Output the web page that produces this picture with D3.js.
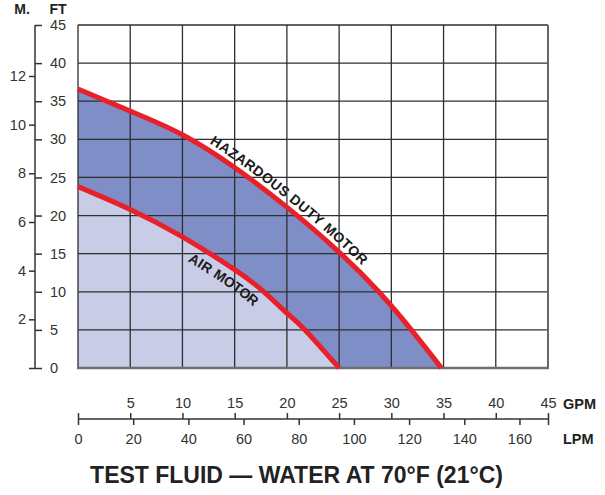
<!DOCTYPE html>
<html>
<head>
<meta charset="utf-8">
<script src="https://cdn.jsdelivr.net/npm/d3@7"></script>
<style>
  html, body { margin: 0; padding: 0; background: #fff; }
  svg text { font-family: "Liberation Sans", Arial, Helvetica, sans-serif; }
</style>
</head>
<body>
<svg id="chart" width="605" height="495"></svg>
<script>
// ---- data ----
const hazardGPM = [0, 5, 10, 15, 20, 25, 28.8, 31.8, 34.8];
const hazardFT  = [36.6, 33.7, 30.6, 26.3, 21.1, 15.2, 10, 5.2, 0];
const airGPM    = [0, 5, 10, 15, 17.8, 20, 21.8, 25];
const airFT     = [23.8, 20.8, 17.2, 12.9, 10, 7.2, 4.9, 0];
const ftTicks   = [0, 5, 10, 15, 20, 25, 30, 35, 40, 45];
const mTicks    = [0, 2, 4, 6, 8, 10, 12];
const gpmTicks  = [0, 5, 10, 15, 20, 25, 30, 35, 40, 45];
const lpmTicks  = [0, 20, 40, 60, 80, 100, 120, 140, 160];
const LPM_PER_GPM = 3.78541;
const hazardLabel = "HAZARDOUS DUTY MOTOR";
const airLabel = "AIR MOTOR";
const titleText = "TEST FLUID \u2014 WATER AT 70\u00B0F (21\u00B0C)";

// ---- scales ----
const svg = d3.select("#chart");
const x = d3.scaleLinear().domain([0, 45]).range([78, 548]);
const xl = d3.scaleLinear().domain([0, 45 * LPM_PER_GPM]).range([78, 548]);
const y = d3.scaleLinear().domain([0, 45]).range([368, 25]);
const ym = d3.scaleLinear().domain([0, 12]).range([368, 76]);

const hazard = hazardGPM.map((g, i) => [g, hazardFT[i]]);
const air = airGPM.map((g, i) => [g, airFT[i]]);

const area = d3.area().x(d => x(d[0])).y0(y(0)).y1(d => y(d[1])).curve(d3.curveNatural);
const line = d3.line().x(d => x(d[0])).y(d => y(d[1])).curve(d3.curveNatural);

// fills
svg.append("path").attr("d", area(hazard)).attr("fill", "#7f8ec7");
svg.append("path").attr("d", area(air)).attr("fill", "#c8cce7");

// grid
const grid = svg.append("g").attr("stroke", "#2e2e2e").attr("stroke-width", 1.3);
grid.selectAll("line.h").data(ftTicks.slice(1)).join("line")
  .attr("x1", x(0)).attr("x2", x(45)).attr("y1", d => y(d)).attr("y2", d => y(d));
grid.selectAll("line.v").data(gpmTicks.slice(0, -1)).join("line")
  .attr("x1", d => x(d)).attr("x2", d => x(d)).attr("y1", y(45)).attr("y2", y(0));
svg.append("line").attr("x1", x(45)).attr("x2", x(45)).attr("y1", y(45)).attr("y2", y(0))
  .attr("stroke", "#666").attr("stroke-width", 2);
svg.append("line").attr("x1", x(0) - 1).attr("x2", x(45) + 1).attr("y1", y(0)).attr("y2", y(0))
  .attr("stroke", "#6e6e6e").attr("stroke-width", 2.5);

// curves
const hPath = svg.append("path").attr("id", "hazPath").attr("d", line(hazard))
  .attr("fill", "none").attr("stroke", "#e8202a").attr("stroke-width", 5);
const aPath = svg.append("path").attr("id", "airPath").attr("d", line(air))
  .attr("fill", "none").attr("stroke", "#e8202a").attr("stroke-width", 5);

function lengthAtX(pathNode, targetX) {
  const L = pathNode.getTotalLength();
  let lo = 0, hi = L;
  for (let i = 0; i < 40; i++) {
    const mid = (lo + hi) / 2;
    if (pathNode.getPointAtLength(mid).x < targetX) lo = mid; else hi = mid;
  }
  return lo;
}

svg.append("text").attr("font-size", 14).attr("font-weight", "bold").attr("fill", "#1a1a1a")
  .attr("letter-spacing", 0.4).attr("dy", -6)
  .append("textPath").attr("href", "#hazPath")
  .attr("startOffset", lengthAtX(hPath.node(), 206))
  .text(hazardLabel);

svg.append("text").attr("font-size", 14).attr("font-weight", "bold").attr("fill", "#1a1a1a")
  .attr("letter-spacing", 0.4).attr("dy", 18)
  .append("textPath").attr("href", "#airPath")
  .attr("startOffset", lengthAtX(aPath.node(), 197))
  .text(airLabel);

// ---- left axes ----
const axX = 35;
svg.append("line").attr("x1", axX).attr("x2", axX).attr("y1", y(45)).attr("y2", y(0))
  .attr("stroke", "#333").attr("stroke-width", 1.5);

const ftAxis = d3.axisRight(y).tickValues(ftTicks).tickSize(7).tickPadding(8).tickSizeOuter(0);
const gFt = svg.append("g").attr("transform", `translate(${axX},0)`).call(ftAxis);
const mAxis = d3.axisLeft(ym).tickValues(mTicks).tickSize(6).tickPadding(3).tickSizeOuter(0)
  .tickFormat(d => d === 0 ? "" : d);
const gM = svg.append("g").attr("transform", `translate(${axX},0)`).call(mAxis);

// ---- bottom axes ----
const axY = 419;
svg.append("line").attr("x1", x(0)).attr("x2", x(45)).attr("y1", axY).attr("y2", axY)
  .attr("stroke", "#333").attr("stroke-width", 1.5);
const gpmAxis = d3.axisTop(x).tickValues(gpmTicks).tickSize(6).tickPadding(5).tickSizeOuter(0)
  .tickFormat(d => d === 0 ? "" : d);
const gG = svg.append("g").attr("transform", `translate(0,${axY})`).call(gpmAxis);
const lpmAxis = d3.axisBottom(xl).tickValues(lpmTicks.concat([45 * LPM_PER_GPM])).tickSize(6).tickPadding(9).tickSizeOuter(0)
  .tickFormat(d => lpmTicks.includes(d) ? d : "");
const gL = svg.append("g").attr("transform", `translate(0,${axY})`).call(lpmAxis);

[gFt, gM, gG, gL].forEach(g => {
  g.select(".domain").remove();
  g.selectAll(".tick line").attr("stroke", "#333").attr("stroke-width", 1.5);
  g.selectAll(".tick text").attr("font-size", 14.5).attr("fill", "#333")
    .attr("font-family", "'Liberation Sans', Arial, sans-serif");
});

// unit labels
svg.append("text").attr("x", 22).attr("y", 14).attr("text-anchor", "middle")
  .attr("font-size", 14).attr("font-weight", "bold").attr("fill", "#222").text("M.");
svg.append("text").attr("x", 58).attr("y", 14).attr("text-anchor", "middle")
  .attr("font-size", 14).attr("font-weight", "bold").attr("fill", "#222").text("FT");
svg.append("text").attr("x", 563).attr("y", 409)
  .attr("font-size", 14.5).attr("font-weight", "bold").attr("fill", "#222").text("GPM");
svg.append("text").attr("x", 563).attr("y", 444)
  .attr("font-size", 14.5).attr("font-weight", "bold").attr("fill", "#222").text("LPM");

// title
svg.append("text").attr("x", 296.5).attr("y", 483).attr("text-anchor", "middle")
  .attr("font-size", 23).attr("font-weight", "bold").attr("fill", "#222").text(titleText);
</script>
</body>
</html>
